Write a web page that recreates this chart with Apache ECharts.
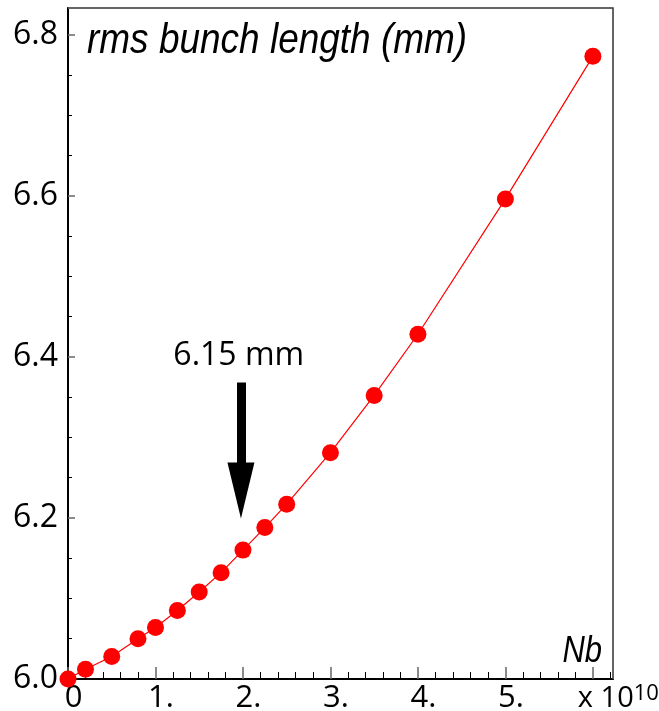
<!DOCTYPE html>
<html>
<head>
<meta charset="utf-8">
<script src="https://cdn.jsdelivr.net/npm/echarts@6/dist/echarts.min.js"></script>
<style>
html,body{margin:0;padding:0;background:#fff;}
#c{width:659px;height:711px;}
</style>
</head>
<body>
<div id="c"></div>
<script>
// Bunch population Nb (x 10^10)
const nb = [0, 0.2, 0.5, 0.8, 1.0, 1.25, 1.5, 1.75, 2.0, 2.25, 2.5, 3.0, 3.5, 4.0, 5.0, 6.0];
// rms bunch length (mm)
const sigmaZ = [6.000, 6.012, 6.028, 6.050, 6.064, 6.085, 6.108, 6.132, 6.160, 6.188, 6.217, 6.281, 6.352, 6.428, 6.596, 6.773];
const xTickLabels = ['0', '1.', '2.', '3.', '4.', '5.'];
const yTickLabels = ['6.0', '6.2', '6.4', '6.6', '6.8'];
const titleText = 'rms bunch length (mm)';
const xName = 'Nb';
const annotText = '6.15 mm';
const arrowFrom = [1.977, 6.368];
const arrowTo = [1.977, 6.234];
const annotPos = [1.952, 6.4015];

const chart = echarts.init(document.getElementById('c'), null, {renderer: 'canvas'});
const labelFont = '"Open Sans", sans-serif';

const option = {
  backgroundColor: '#fff',
  animation: false,
  grid: {left: 68, right: 46, top: 8, bottom: 32, show: true, borderColor: '#333', borderWidth: 1.5,
         backgroundColor: 'transparent', containLabel: false, outerBoundsMode: 'none'},
  xAxis: {
    type: 'value', min: 0, max: 6.23, interval: 1,
    splitLine: {show: false},
    axisLine: {show: true, onZero: false, lineStyle: {color: '#000', width: 2}},
    axisTick: {show: true, inside: true, length: 12, lineStyle: {color: '#666', width: 1.5}},
    minorTick: {show: true, splitNumber: 5, length: 7, lineStyle: {color: '#000', width: 1}},
    axisLabel: {
      show: true, margin: 4, color: '#000', fontFamily: labelFont, fontSize: 31,
      padding: [0, 0, 0, 11], showMaxLabel: false, hideOverlap: false,
      formatter: function (v) {
        const i = Math.round(v);
        if (Math.abs(v - i) > 1e-6) return '';
        if (i === 6) return '{sp| }{a|x 10}{b|10}';
        return xTickLabels[i] !== undefined ? xTickLabels[i] : '';
      },
      rich: {
        sp: {width: 40, fontSize: 31, fontFamily: labelFont},
        a: {fontSize: 29, fontFamily: labelFont, color: '#000'},
        b: {fontSize: 22, fontFamily: labelFont, color: '#000', verticalAlign: 'top', lineHeight: 8}
      }
    }
  },
  yAxis: {
    type: 'value', min: 6.0, max: 6.833, interval: 0.2,
    splitLine: {show: false},
    axisLine: {show: true, onZero: false, lineStyle: {color: '#000', width: 2}},
    axisTick: {show: true, inside: true, length: 7, lineStyle: {color: '#666', width: 1.5}},
    minorTick: {show: true, splitNumber: 4, length: 4, lineStyle: {color: '#000', width: 1}},
    axisLabel: {
      show: true, margin: 10, color: '#000', fontFamily: labelFont, fontSize: 32, showMaxLabel: false,
      formatter: function (v) {
        const i = Math.round((v - 6.0) / 0.2);
        if (Math.abs(v - (6.0 + i * 0.2)) > 1e-6) return '';
        return yTickLabels[i] !== undefined ? yTickLabels[i] : '';
      }
    }
  },
  series: [{
    type: 'line',
    data: nb.map((x, i) => [x, sigmaZ[i]]),
    symbol: 'circle', symbolSize: 17,
    itemStyle: {color: '#ff0000'},
    lineStyle: {color: '#ff0000', width: 1.2},
    clip: false,
    markLine: {
      silent: true,
      symbol: ['none', 'triangle'],
      symbolSize: [27, 56],
      label: {show: false},
      lineStyle: {color: '#000', width: 9, type: 'solid'},
      data: [[{coord: arrowFrom}, {coord: arrowTo}]]
    }
  }]
};
chart.setOption(option);

const p = chart.convertToPixel({gridIndex: 0}, annotPos);
chart.setOption({
  graphic: [
    {type: 'text', x: 87, y: 41, scaleX: 0.86, style: {text: titleText, font: 'italic 43px "Liberation Sans", Arial, sans-serif', fill: '#000', textAlign: 'left', textVerticalAlign: 'middle'}},
    {type: 'text', x: 602, y: 652, scaleX: 0.86, style: {text: xName, font: 'italic 36px "Liberation Sans", Arial, sans-serif', fill: '#000', textAlign: 'right', textVerticalAlign: 'middle'}},
    {type: 'text', x: p[0], y: p[1], style: {text: annotText, font: '32px "Open Sans", sans-serif', fill: '#000', textAlign: 'center', textVerticalAlign: 'middle'}}
  ]
});
</script>
</body>
</html>
